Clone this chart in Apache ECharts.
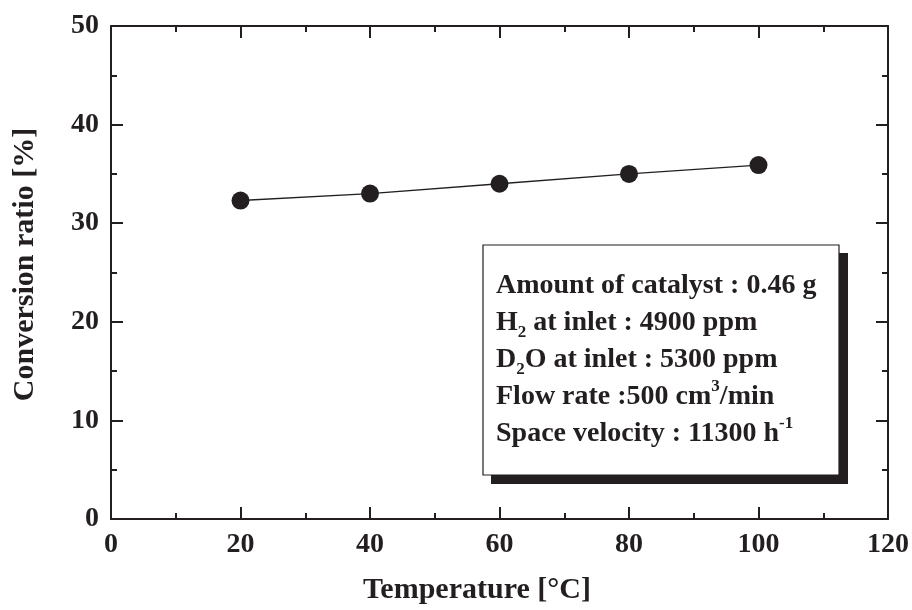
<!DOCTYPE html>
<html>
<head>
<meta charset="utf-8">
<script src="https://cdn.jsdelivr.net/npm/echarts@6/dist/echarts.min.js"></script>
<style>html,body{margin:0;padding:0;background:#fff;}#c{width:912px;height:610px;}</style>
</head>
<body>
<div id="c"></div>
<script>
// Data
const temperatures = [20, 40, 60, 80, 100];
const conversion = [32.3, 33.0, 34.0, 35.0, 35.9];
const xTicks = [0, 20, 40, 60, 80, 100, 120];
const yTicks = [0, 10, 20, 30, 40, 50];
const infoLines = [
  'Amount of catalyst : 0.46 g',
  'H{sub|2} at inlet : 4900 ppm',
  'D{sub|2}O at inlet : 5300 ppm',
  'Flow rate :500 cm{sup|3}/min',
  'Space velocity : 11300 h{sup|-1}'
];

const INK = '#231f20';
const FONT = '"Liberation Serif", "Times New Roman", serif';

const chart = echarts.init(document.getElementById('c'), null, {renderer: 'canvas'});

function axisBase(extra) {
  return Object.assign({
    type: 'value',
    axisLine: {show: true, onZero: false, lineStyle: {color: INK, width: 2}},
    axisTick: {show: true, inside: true, length: 12, lineStyle: {color: INK, width: 2}},
    minorTick: {show: true, splitNumber: 2, length: 6, lineStyle: {color: INK, width: 2}},
    splitLine: {show: false},
    minorSplitLine: {show: false}
  }, extra);
}

const labelStyle = {
  color: INK, fontFamily: FONT, fontWeight: 'bold', fontSize: 28, margin: 12
};

const option = {
  animation: false,
  backgroundColor: '#fff',
  grid: {left: 111, top: 26, right: 24, bottom: 89.5, containLabel: false},
  xAxis: [
    axisBase({
      position: 'bottom', min: xTicks[0], max: xTicks[xTicks.length - 1], interval: 20,
      axisLabel: labelStyle,
      name: 'Temperature [°C]', nameLocation: 'middle', nameGap: 56,
      nameTextStyle: {color: INK, fontFamily: FONT, fontWeight: 'bold', fontSize: 30, padding: [0, 45, 0, 0]}
    }),
    axisBase({
      position: 'top', min: xTicks[0], max: xTicks[xTicks.length - 1], interval: 20,
      axisLabel: {show: false}
    })
  ],
  yAxis: [
    axisBase({
      position: 'left', min: yTicks[0], max: yTicks[yTicks.length - 1], interval: 10,
      axisLabel: labelStyle,
      name: 'Conversion ratio [%]', nameLocation: 'middle', nameGap: 71,
      nameTextStyle: {color: INK, fontFamily: FONT, fontWeight: 'bold', fontSize: 30, padding: [0, 0, 0, 16]}
    }),
    axisBase({
      position: 'right', min: yTicks[0], max: yTicks[yTicks.length - 1], interval: 10,
      axisLabel: {show: false}
    })
  ],
  series: [{
    type: 'line',
    data: temperatures.map((t, i) => [t, conversion[i]]),
    symbol: 'circle',
    symbolSize: 18,
    itemStyle: {color: INK},
    lineStyle: {color: INK, width: 1.3},
    z: 3
  }],
  graphic: [
    {type: 'rect', shape: {x: 491, y: 253, width: 357, height: 231}, style: {fill: INK}, z: 10},
    {type: 'rect', shape: {x: 483, y: 245, width: 356, height: 230}, style: {fill: '#fff', stroke: INK, lineWidth: 1.2}, z: 11},
    {
      type: 'text', left: 496, top: 267, z: 12,
      style: {
        text: infoLines.join('\n'),
        fill: INK,
        font: 'bold 28px ' + FONT,
        lineHeight: 37,
        rich: {
          sub: {fontFamily: FONT, fontWeight: 'bold', fontSize: 17, fill: INK, verticalAlign: 'bottom', lineHeight: 25},
          sup: {fontFamily: FONT, fontWeight: 'bold', fontSize: 17, fill: INK, verticalAlign: 'top', lineHeight: 25}
        }
      }
    }
  ]
};
chart.setOption(option);
</script>
</body>
</html>
